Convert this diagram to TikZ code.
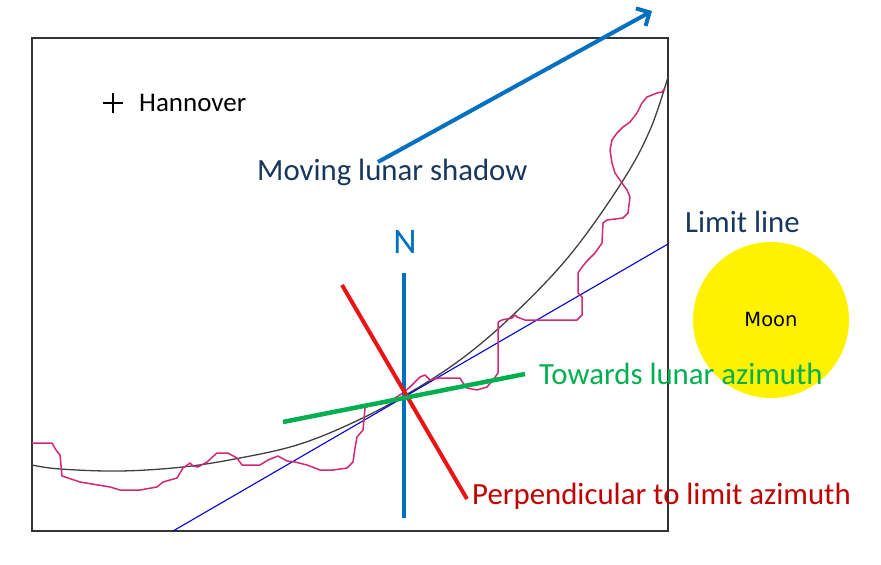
\documentclass[tikz,border=0pt]{standalone}
\usepackage{fontspec}
\setmainfont{Carlito}
\newfontfamily\moonfont{DejaVu Sans}
\usetikzlibrary{arrows.meta,positioning}
\definecolor{navy}{RGB}{23,55,94}
\definecolor{azblue}{RGB}{0,112,192}
\definecolor{azgreen}{RGB}{0,176,80}
\definecolor{azred}{RGB}{192,0,0}
\definecolor{perpred}{RGB}{235,20,20}
\definecolor{coastpink}{RGB}{210,40,120}

\begin{document}
\begin{tikzpicture}[
  x=1pt, y=-1pt,
  frame/.style={draw=black!80, line width=1.6pt},
  lbl/.style={inner sep=0pt, anchor=west, font=\fontsize{30.8}{36}\selectfont},
  thick4/.style={line width=4pt},
  limit/.style={draw=blue!85!black, line width=1.1pt},
  coast/.style={draw=coastpink, line width=1.5pt, line join=round},
  central/.style={draw=black!75, line width=1.3pt},
  moon/.style={circle, fill=yellow, minimum size=156pt, inner sep=0pt,
               font=\moonfont\fontsize{19.5}{23}\selectfont}
]
\useasboundingbox (0,0) rectangle (881,565);

% map frame
\draw[frame] (32,38) rectangle (668,531);

% Hannover
\coordinate (hann) at (113,103);
\draw[line width=1.2pt] (hann) +(-10,0) -- +(10,0) (hann) +(0,-10) -- +(0,10);
\node[lbl, font=\fontsize{27}{32}\selectfont] (hanntxt) at (139,103) {Hannover};

% central line and limit line
\draw[central] plot[smooth, tension=0.6] coordinates {
  (32,465) (60,469) (120,471) (183,467) (240,458) (297,445) (350,424)
  (404,396) (460,360) (513,315) (570,255) (622,182) (650,130) (668,77)};
\coordinate (limA) at (173,531);
\coordinate (limB) at (668,244);
\draw[limit] (limA) -- (limB);

% observed limit
\draw[coast] plot coordinates {
  (32,443) (52,443) (56,450) (60,455) (62,476) (80,482) (110,487) (120,490)
  (140,490) (157,487) (163,482) (177,478) (183,468) (190,463) (193,466)
  (198,467) (207,462) (217,453) (228,453) (237,458) (242,465) (260,465)
  (268,460) (278,456) (287,461) (295,462) (307,465) (320,470) (333,470)
  (347,468) (353,462) (355,448) (357,437) (363,430) (365,408) (370,405)
  (387,403) (403,393) (410,387) (420,377) (425,375) (430,380) (440,378)
  (460,378) (463,383) (467,388) (477,390) (487,387) (493,380) (498,373)
  (498,322) (502,320) (512,318) (515,315) (517,317) (525,320) (577,320)
  (582,315) (582,297) (578,293) (578,273) (582,267) (588,260) (595,253)
  (602,243) (603,223) (607,220) (623,218) (628,213) (630,197) (627,190)
  (622,183) (615,173) (612,163) (610,150) (612,140) (617,133) (623,127)
  (630,122) (637,113) (642,103) (647,97) (657,93) (662,92) (665,88)};

% directions through the crossing point
\coordinate (nTop) at (404,273);
\coordinate (nBot) at (404,518);
\coordinate (pTop) at (342,285);
\coordinate (pBot) at (467,499);
\coordinate (gL) at (283,422);
\coordinate (gR) at (525,374);
\draw[thick4, azblue] (nTop) -- (nBot);
\draw[thick4, perpred] (pTop) -- (pBot);
\draw[line width=4.5pt, azgreen] (gL) -- (gR);

% shadow motion
\coordinate (shTail) at (378,162);
\coordinate (shTip) at (652,11);
\draw[thick4, azblue, -{Straight Barb[length=10pt,width=20pt]}] (shTail) -- (shTip);

% labels
\node[lbl, text=navy] (shadow) at (257,172) {Moving lunar shadow};
\node[lbl, anchor=center, text=azblue, font=\fontsize{36}{40}\selectfont] (north) at (405,242) {N};
\node[lbl, text=navy] (limlbl) at (685,222) {Limit line};
\node[moon] (moon) at (771,320) {Moon};
\node[lbl, text=azgreen] (azlbl) at (539,374) {Towards lunar azimuth};
\node[lbl, text=azred] (perplbl) at (472,496) {Perpendicular to limit azimuth};
\end{tikzpicture}
\end{document}
